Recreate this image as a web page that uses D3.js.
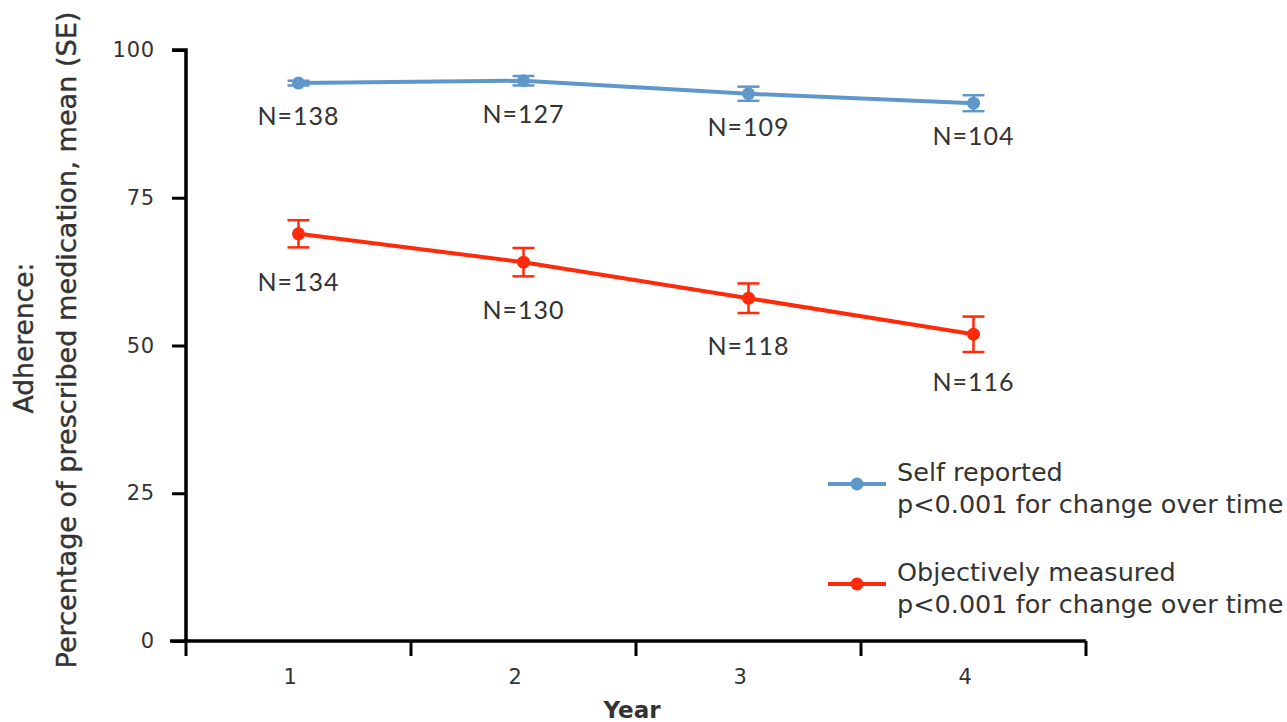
<!DOCTYPE html>
<html>
<head>
<meta charset="utf-8">
<script src="https://cdn.jsdelivr.net/npm/d3@7"></script>
<style>
  body { margin: 0; background: #fff; }
  text { fill: #333; }
</style>
</head>
<body>
<svg id="chart" width="1287" height="722"></svg>
<script>
const years = ["1", "2", "3", "4"];
const yTicks = [0, 25, 50, 75, 100];
const selfMean = [94.4, 94.8, 92.6, 91.0];
const selfSE = [0.4, 0.8, 1.2, 1.35];
const selfN = [138, 127, 109, 104];
const objMean = [68.9, 64.1, 58.0, 51.9];
const objSE = [2.3, 2.4, 2.5, 3.0];
const objN = [134, 130, 118, 116];
const seriesNames = ["Self reported", "Objectively measured"];
const seriesNotes = ["p<0.001 for change over time", "p<0.001 for change over time"];
const colors = ["#5f97ca", "#ff2a0a"];

const DV = "'DejaVu Sans', sans-serif";
const svg = d3.select("#chart");
const x = d3.scaleBand().domain(years).range([186, 1086]);
const y = d3.scaleLinear().domain([0, 100]).range([641, 50]);

const series = [
  {mean: selfMean, se: selfSE, n: selfN, color: colors[0], labelDy: 42},
  {mean: objMean, se: objSE, n: objN, color: colors[1], labelDy: 57}
];

// Axes
const yAxis = svg.append("g").attr("transform", "translate(186,0)")
  .call(d3.axisLeft(y).tickValues(yTicks).tickSize(14).tickPadding(17));
yAxis.select(".domain").attr("stroke", "#000").attr("stroke-width", 3.5)
  .attr("d", "M-14,50H0V641");
yAxis.selectAll(".tick line").attr("stroke", "#000").attr("stroke-width", 3);
yAxis.selectAll(".tick text").style("font-family", DV).style("font-size", "21px")
  .attr("letter-spacing", 0.8).style("fill", "#333");

const xAxis = svg.append("g").attr("transform", "translate(0,641)")
  .call(d3.axisBottom(x).tickSize(0).tickPadding(28));
xAxis.select(".domain").attr("stroke", "#000").attr("stroke-width", 3.5)
  .attr("d", "M170,0H1086");
xAxis.selectAll(".tick text").style("font-family", DV).style("font-size", "21px")
  .attr("dx", "-0.4em").style("fill", "#333");
// boundary ticks between bands
const bounds = years.map(d => x(d)).concat([x.range()[1]]);
svg.append("g").selectAll("line").data(bounds).join("line")
  .attr("x1", d => d).attr("x2", d => d)
  .attr("y1", 641).attr("y2", 656)
  .attr("stroke", "#000").attr("stroke-width", 3);

const cx = d => x(d) + x.bandwidth() / 2;

series.forEach(s => {
  const pts = years.map((yr, i) => ({yr, m: s.mean[i], se: s.se[i], n: s.n[i]}));
  svg.append("path").datum(pts)
    .attr("fill", "none").attr("stroke", s.color).attr("stroke-width", 4)
    .attr("d", d3.line().x(d => cx(d.yr)).y(d => y(d.m)));
  const g = svg.append("g").selectAll("g").data(pts).join("g");
  g.append("line").attr("x1", d => cx(d.yr)).attr("x2", d => cx(d.yr))
    .attr("y1", d => y(d.m + d.se)).attr("y2", d => y(d.m - d.se))
    .attr("stroke", s.color).attr("stroke-width", 2.5);
  [1, -1].forEach(sg => {
    g.append("line").attr("x1", d => cx(d.yr) - 11).attr("x2", d => cx(d.yr) + 11)
      .attr("y1", d => y(d.m + sg * d.se)).attr("y2", d => y(d.m + sg * d.se))
      .attr("stroke", s.color).attr("stroke-width", 2.5);
  });
  g.append("circle").attr("cx", d => cx(d.yr)).attr("cy", d => y(d.m)).attr("r", 6.5)
    .attr("fill", s.color);
  g.append("text").attr("x", d => cx(d.yr)).attr("y", d => y(d.m) + s.labelDy)
    .attr("text-anchor", "middle")
    .style("font-family", "Lato, sans-serif").style("font-size", "25px")
    .attr("letter-spacing", 1)
    .text(d => "N=" + d.n);
});

// Legend
const legY = [484, 584];
seriesNames.forEach((name, i) => {
  const lg = svg.append("g");
  lg.append("line").attr("x1", 828).attr("x2", 886).attr("y1", legY[i]).attr("y2", legY[i])
    .attr("stroke", colors[i]).attr("stroke-width", 4);
  lg.append("circle").attr("cx", 857).attr("cy", legY[i]).attr("r", 6.5).attr("fill", colors[i]);
  lg.append("text").attr("x", 897).attr("y", legY[i] - 3)
    .style("font-family", DV).style("font-size", "25.5px").text(name);
  lg.append("text").attr("x", 897).attr("y", legY[i] + 29)
    .style("font-family", DV).style("font-size", "25.5px").text(seriesNotes[i]);
});

// Axis titles
svg.append("text").attr("x", 632).attr("y", 718).attr("text-anchor", "middle")
  .style("font-family", DV).style("font-size", "23px").style("font-weight", "bold").text("Year");
svg.append("text").attr("transform", "translate(33,338) rotate(-90)")
  .attr("text-anchor", "middle").style("font-family", DV).style("font-size", "26.5px")
  .attr("stroke", "#333").attr("stroke-width", 0.4).text("Adherence:");
svg.append("text").attr("transform", "translate(76,340) rotate(-90)")
  .attr("text-anchor", "middle").style("font-family", DV).style("font-size", "27.1px")
  .attr("stroke", "#333").attr("stroke-width", 0.4)
  .text("Percentage of prescribed medication, mean (SE)");
</script>
</body>
</html>
